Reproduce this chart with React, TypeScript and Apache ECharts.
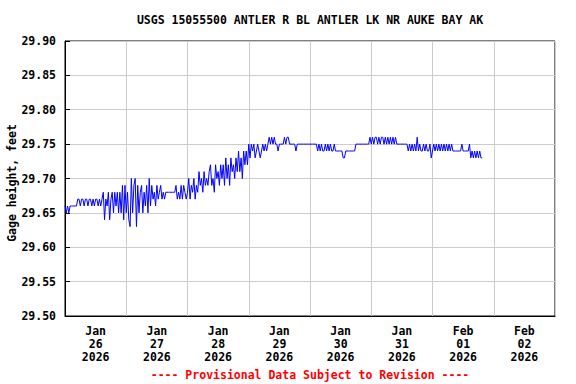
import React, { useEffect, useRef } from "react";
import * as echarts from "echarts";

// Gage height (feet), half-hourly readings, one array per day starting at 00:00
const jan26 = [29.66, 29.65, 29.66, 29.65, 29.66, 29.66, 29.66, 29.66, 29.66, 29.66, 29.67, 29.67, 29.66, 29.67, 29.67, 29.66, 29.67, 29.67, 29.66, 29.67, 29.67, 29.66, 29.67, 29.66, 29.67, 29.67, 29.66, 29.67, 29.66, 29.67, 29.68, 29.64, 29.67, 29.66, 29.68, 29.64, 29.67, 29.68, 29.65, 29.68, 29.66, 29.68, 29.65, 29.68, 29.65, 29.69, 29.64, 29.69];
const jan27 = [29.65, 29.68, 29.64, 29.63, 29.70, 29.65, 29.69, 29.70, 29.63, 29.69, 29.65, 29.68, 29.69, 29.65, 29.68, 29.66, 29.69, 29.65, 29.70, 29.66, 29.69, 29.67, 29.68, 29.66, 29.69, 29.67, 29.68, 29.69, 29.67, 29.68, 29.67, 29.68, 29.68, 29.68, 29.68, 29.68, 29.68, 29.68, 29.68, 29.69, 29.67, 29.68, 29.67, 29.69, 29.67, 29.69, 29.68, 29.67];
const jan28 = [29.68, 29.70, 29.67, 29.69, 29.68, 29.70, 29.67, 29.69, 29.68, 29.71, 29.69, 29.70, 29.68, 29.71, 29.69, 29.70, 29.69, 29.71, 29.72, 29.69, 29.70, 29.68, 29.72, 29.70, 29.71, 29.69, 29.72, 29.70, 29.72, 29.69, 29.73, 29.70, 29.72, 29.69, 29.73, 29.71, 29.72, 29.70, 29.73, 29.71, 29.74, 29.71, 29.73, 29.70, 29.74, 29.72, 29.74, 29.72];
const jan29 = [29.75, 29.73, 29.75, 29.74, 29.75, 29.73, 29.74, 29.75, 29.74, 29.73, 29.74, 29.75, 29.74, 29.75, 29.74, 29.75, 29.76, 29.75, 29.76, 29.75, 29.76, 29.75, 29.75, 29.74, 29.75, 29.75, 29.75, 29.75, 29.76, 29.75, 29.76, 29.76, 29.75, 29.75, 29.75, 29.75, 29.75, 29.74, 29.75, 29.75, 29.75, 29.75, 29.75, 29.75, 29.75, 29.75, 29.75, 29.75];
const jan30 = [29.75, 29.75, 29.75, 29.75, 29.75, 29.75, 29.74, 29.75, 29.74, 29.75, 29.74, 29.74, 29.75, 29.74, 29.75, 29.74, 29.75, 29.74, 29.74, 29.75, 29.74, 29.74, 29.74, 29.74, 29.74, 29.74, 29.73, 29.73, 29.74, 29.74, 29.74, 29.74, 29.74, 29.74, 29.74, 29.74, 29.75, 29.75, 29.75, 29.75, 29.75, 29.75, 29.75, 29.75, 29.75, 29.75, 29.75, 29.76];
const jan31 = [29.75, 29.76, 29.75, 29.76, 29.76, 29.75, 29.76, 29.75, 29.76, 29.76, 29.75, 29.76, 29.75, 29.76, 29.75, 29.76, 29.75, 29.76, 29.75, 29.76, 29.75, 29.75, 29.75, 29.75, 29.75, 29.75, 29.75, 29.75, 29.75, 29.74, 29.75, 29.74, 29.75, 29.74, 29.75, 29.74, 29.76, 29.74, 29.75, 29.74, 29.74, 29.75, 29.74, 29.75, 29.74, 29.74, 29.75, 29.73];
const feb01 = [29.74, 29.75, 29.74, 29.75, 29.74, 29.75, 29.74, 29.75, 29.74, 29.75, 29.74, 29.75, 29.74, 29.75, 29.74, 29.75, 29.74, 29.74, 29.74, 29.74, 29.74, 29.74, 29.74, 29.75, 29.74, 29.74, 29.74, 29.74, 29.74, 29.75, 29.73, 29.74, 29.73, 29.74, 29.73, 29.74, 29.73, 29.74, 29.73, 29.73];

const dayArrays = [jan26, jan27, jan28, jan29, jan30, jan31, feb01];
const readingsPerDay = 48;

const dayLabels = [
  "Jan\n26\n2026",
  "Jan\n27\n2026",
  "Jan\n28\n2026",
  "Jan\n29\n2026",
  "Jan\n30\n2026",
  "Jan\n31\n2026",
  "Feb\n01\n2026",
  "Feb\n02\n2026",
];

const yMin = 29.5;
const yMax = 29.9;
const yStep = 0.05;

const titleText = "USGS 15055500 ANTLER R BL ANTLER LK NR AUKE BAY AK";
const footerText = "---- Provisional Data Subject to Revision ----";
const yName = "Gage height, feet";

const FONT = "'DejaVu Sans Mono', 'Liberation Mono', monospace";

export default function App() {
  const ref = useRef<HTMLDivElement>(null);

  useEffect(() => {
    if (!ref.current) return;
    const chart = echarts.init(ref.current, undefined, { renderer: "svg" });

    const data: [number, number][] = [];
    dayArrays.forEach((arr, d) => {
      arr.forEach((v, i) => data.push([d + i / readingsPerDay, v]));
    });

    const textBase = { fontFamily: FONT, fontWeight: "bold" as const, fontSize: 11.5, color: "#000" };

    chart.setOption({
      animation: false,
      backgroundColor: "#fff",
      grid: {
        left: 65,
        right: 21,
        top: 41,
        bottom: 68,
        containLabel: false,
        outerBoundsMode: "none",
        show: true,
        borderColor: "#000",
        borderWidth: 1,
        backgroundColor: "transparent",
      },
      xAxis: [
        {
          type: "value",
          min: 0,
          max: 8,
          interval: 1,
          axisLine: { show: true, lineStyle: { color: "#000", width: 1 } },
          axisTick: { show: false },
          axisLabel: { show: false },
          splitLine: { show: true, lineStyle: { color: "#cccccc", width: 1 } },
        },
        {
          type: "category",
          data: dayLabels,
          boundaryGap: true,
          position: "bottom",
          axisLine: { show: false },
          axisTick: { show: false },
          splitLine: { show: false },
          axisLabel: {
            interval: 0,
            margin: 8,
            lineHeight: 13,
            ...textBase,
          },
        },
      ],
      yAxis: {
        type: "value",
        min: yMin,
        max: yMax,
        interval: yStep,
        axisLine: { show: true, lineStyle: { color: "#000", width: 1 } },
        axisTick: { show: true, inside: true, length: 5, lineStyle: { color: "#000" } },
        axisLabel: {
          margin: 9,
          ...textBase,
          formatter: (v: number) => v.toFixed(2),
        },
        splitLine: { show: true, lineStyle: { color: "#cccccc", width: 1 } },
      },
      series: [
        {
          type: "line",
          xAxisIndex: 0,
          data,
          showSymbol: false,
          lineStyle: { color: "#0000ff", width: 1 },
          itemStyle: { color: "#0000ff" },
        },
      ],
      graphic: [
        {
          type: "text",
          x: 310,
          y: 20,
          style: {
            text: titleText,
            fill: "#000",
            font: `bold 11.5px ${FONT}`,
            textAlign: "center",
            textVerticalAlign: "middle",
          },
        },
        {
          type: "text",
          x: 12,
          y: 183,
          rotation: Math.PI / 2,
          style: {
            text: yName,
            fill: "#000",
            font: `bold 11.5px ${FONT}`,
            textAlign: "center",
            textVerticalAlign: "middle",
          },
        },
        {
          type: "text",
          x: 310,
          y: 375,
          style: {
            text: footerText,
            fill: "#ff0000",
            font: `bold 11.5px ${FONT}`,
            textAlign: "center",
            textVerticalAlign: "middle",
          },
        },
      ],
    });

    return () => chart.dispose();
  }, []);

  return (
    <div
      ref={ref}
      style={{ position: "fixed", left: 0, top: 0, width: 576, height: 384, background: "#fff" }}
    />
  );
}
